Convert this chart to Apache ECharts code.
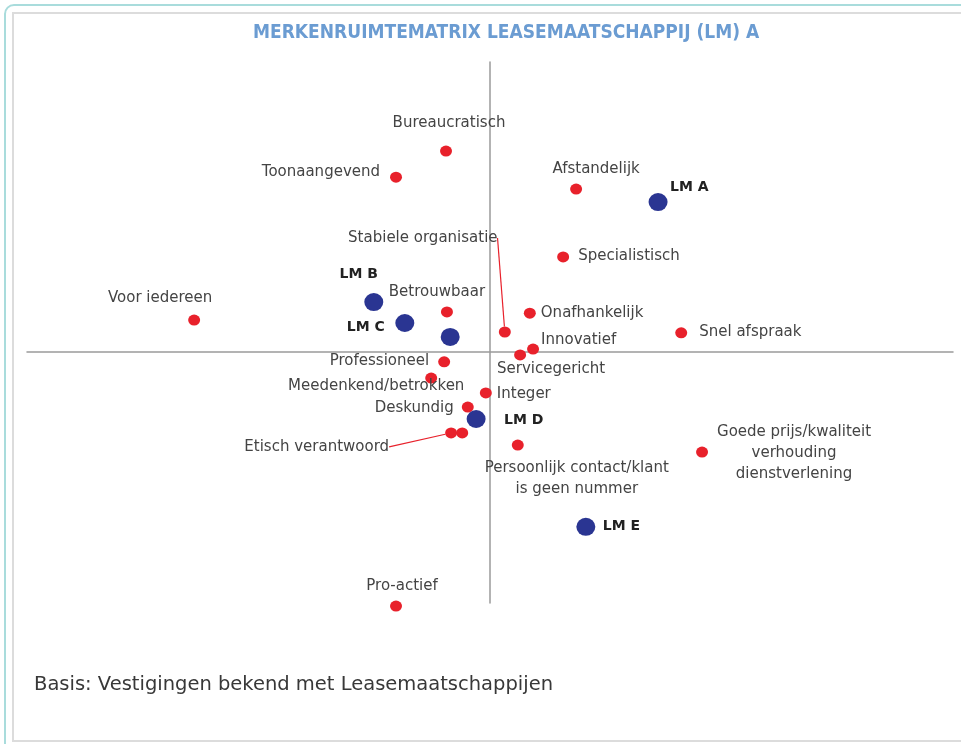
<!DOCTYPE html>
<html>
<head>
<meta charset="utf-8">
<script src="https://cdn.jsdelivr.net/npm/echarts@6/dist/echarts.min.js"></script>
<style>html,body{margin:0;padding:0;background:#fff;}#c{width:961px;height:744px;}</style>
</head>
<body>
<div id="c"></div>
<script>
// ---- data ----
const titleText = 'MERKENRUIMTEMATRIX LEASEMAATSCHAPPIJ (LM) A';
const footText = 'Basis: Vestigingen bekend met Leasemaatschappijen';

const attrNames = ['Bureaucratisch','Toonaangevend','Afstandelijk','Stabiele organisatie','Specialistisch',
  'Voor iedereen','Betrouwbaar','Onafhankelijk','Snel afspraak','Innovatief','Servicegericht',
  'Professioneel','Meedenkend/betrokken','Integer','Deskundig','Etisch verantwoord','',
  'Persoonlijk contact/klant\nis geen nummer','Goede prijs/kwaliteit\nverhouding\ndienstverlening','Pro-actief'];
const attrX = [-0.95,-2.03,1.86,0.32,1.58,-6.39,-0.93,0.86,4.13,0.93,0.65,-0.99,-1.27,-0.09,-0.48,-0.84,-0.60,0.60,4.58,-2.03];
const attrY = [6.93,6.03,5.62,0.69,3.28,1.10,1.38,1.34,0.66,0.10,-0.10,-0.34,-0.90,-1.41,-1.90,-2.79,-2.79,-3.21,-3.45,-8.76];

const brandNames = ['LM A','LM B','LM C','','LM D','LM E'];
const brandX = [3.63,-2.51,-1.84,-0.86,-0.30,2.07];
const brandY = [5.17,1.72,1.00,0.52,-2.31,-6.03];

// ---- label layout (offset from point, alignment) ----
const labelPos = {
  'Bureaucratisch':[3,-28,'center'],
  'Toonaangevend':[-16,-5,'right'],
  'Afstandelijk':[20,-20,'center'],
  'Stabiele organisatie':[-82,-94,'center'],
  'Specialistisch':[15,-1,'left'],
  'Voor iedereen':[-34,-22,'center'],
  'Betrouwbaar':[-10,-20,'center'],
  'Onafhankelijk':[11,0,'left'],
  'Snel afspraak':[18,-1,'left'],
  'Innovatief':[8,-9,'left'],
  'Servicegericht':[31,14,'center'],
  'Professioneel':[-15,-1,'right'],
  'Meedenkend/betrokken':[-55,8,'center'],
  'Integer':[11,1,'left'],
  'Deskundig':[-14,1,'right'],
  'Etisch verantwoord':[-62,14,'right'],
  'Persoonlijk contact/klant\nis geen nummer':[59,34,'center'],
  'Goede prijs/kwaliteit\nverhouding\ndienstverlening':[92,1,'center'],
  'Pro-actief':[6,-20,'center'],
  'LM A':[12,-15,'left'],
  'LM B':[-15,-28,'center'],
  'LM C':[-20,4,'right'],
  'LM D':[28,1,'left'],
  'LM E':[17,-1,'left']
};
const withLeader = ['Stabiele organisatie','Etisch verantwoord'];

function item(name, x, y){
  const p = labelPos[name] || [0,0,'center'];
  const o = {name:name, value:[x,y], label:{offset:[p[0],p[1]], align:p[2]}};
  if (withLeader.indexOf(name) >= 0) o.labelLine = {show:true, lineStyle:{color:'#e8212b', width:1.2}};
  return o;
}
const attrData = attrNames.map((n,i)=>item(n, attrX[i], attrY[i]));
const brandData = brandNames.map((n,i)=>item(n, brandX[i], brandY[i]));

const chart = echarts.init(document.getElementById('c'), null, {renderer:'canvas'});
chart.setOption({
  backgroundColor:'#ffffff',
  animation:false,
  title:{text:titleText, left:248, top:19,
    textStyle:{fontFamily:'DejaVu Sans Condensed, DejaVu Sans', fontWeight:'bold', fontSize:19, color:'#6b9cd2'}},
  graphic:[
    {type:'rect', shape:{x:5,y:5,width:980,height:760,r:9}, style:{fill:'none', stroke:'#a9dcdc', lineWidth:2}, z:-10},
    {type:'rect', shape:{x:13,y:13,width:980,height:728}, style:{fill:'none', stroke:'#dcdcdc', lineWidth:2}, z:-10},
    {type:'text', left:34, top:675, style:{text:footText, fontFamily:'DejaVu Sans', fontSize:19.5, fill:'#383838'}}
  ],
  grid:{left:27, right:8, top:62, bottom:141},
  xAxis:{type:'value', min:-10, max:10, splitLine:{show:false}, axisTick:{show:false}, axisLabel:{show:false},
    axisLine:{onZero:true, lineStyle:{color:'#9a9a9a', width:1.5}}},
  yAxis:{type:'value', min:-8.655, max:10, splitLine:{show:false}, axisTick:{show:false}, axisLabel:{show:false},
    axisLine:{onZero:true, lineStyle:{color:'#9a9a9a', width:1.5}}},
  series:[
    {type:'scatter', name:'attributen', data:attrData, clip:false, symbolSize:[12,11],
     itemStyle:{color:'#e8212b', opacity:1},
     label:{show:true, position:'inside', verticalAlign:'middle', formatter:'{b}',
       fontFamily:'DejaVu Sans', fontSize:15, color:'#444', lineHeight:21},
     z:3},
    {type:'scatter', name:'merken', data:brandData, clip:false, symbolSize:[19,18],
     itemStyle:{color:'#2a3592', opacity:1},
     label:{show:true, position:'inside', verticalAlign:'middle', formatter:'{b}',
       fontFamily:'DejaVu Sans', fontWeight:'bold', fontSize:14, color:'#222'},
     z:4}
  ]
});
</script>
</body>
</html>
